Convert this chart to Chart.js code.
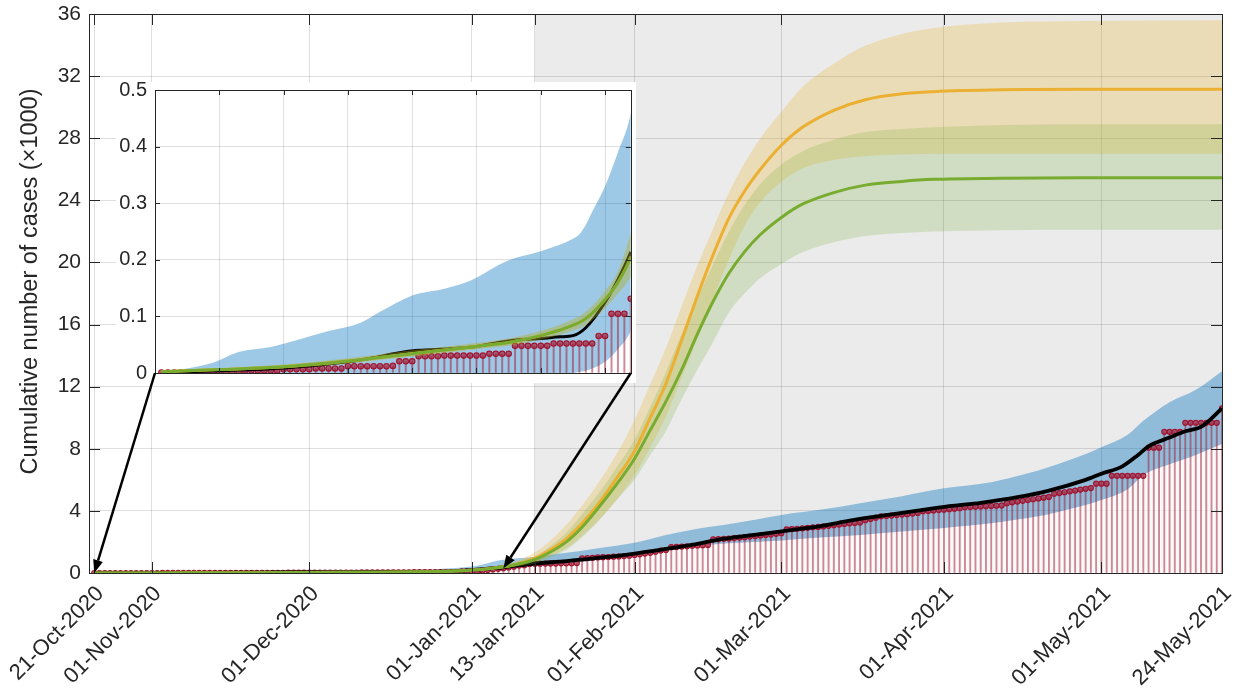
<!DOCTYPE html>
<html><head><meta charset="utf-8">
<script src="https://cdn.jsdelivr.net/npm/chart.js@4.4.1/dist/chart.umd.min.js"></script>
<style>
html,body{margin:0;padding:0;background:#fff;}
#wrap{position:relative;width:1239px;height:690px;overflow:hidden;background:#fff;}
#main{position:absolute;left:0;top:0;}
#inset{position:absolute;left:116px;top:82px;background:#fff;}
#overlay{position:absolute;left:0;top:0;pointer-events:none;}
</style></head><body>
<div id="wrap">
<canvas id="main" width="1239" height="690"></canvas>
<canvas id="inset" width="520" height="301"></canvas>
<canvas id="overlay" width="1239" height="690"></canvas>
</div>
<script>
// ---------- DATA (values in thousands of cases; x = day number, day 1 = 21-Oct-2020) ----------
const tickDays   = [1, 12, 42, 73, 85, 104, 132, 163, 193, 216];
const tickLabels = ['21-Oct-2020','01-Nov-2020','01-Dec-2020','01-Jan-2021','13-Jan-2021',
                    '01-Feb-2021','01-Mar-2021','01-Apr-2021','01-May-2021','24-May-2021'];
const yTitle = 'Cumulative number of cases (×1000)';
const shadeStartDay = 85;           // 13-Jan-2021
const insetMaxDay = 74;
const insetXTicks = [10, 20, 30, 40, 50, 60, 70];
const arrowTips = [[1, 0], [79, 0.3]];

// observed cumulative cases (stems), one per day from day 1
const casesK = [
  0.001,0.001,0.001,0.001,0.001,0.001,0.001,0.001,0.001,0.001,
  0.001,0.001,0.001,0.004,0.004,0.004,0.004,0.004,0.004,0.0065,
  0.0065,0.0065,0.0065,0.0065,0.008,0.008,0.008,0.008,0.008,0.012,
  0.012,0.012,0.012,0.012,0.012,0.012,0.0125,0.0207,0.0207,0.0207,
  0.0295,0.0295,0.0295,0.0295,0.0307,0.0307,0.0307,0.0307,0.0307,0.0307,
  0.0307,0.034,0.034,0.034,0.034,0.048,0.048,0.048,0.048,0.048,
  0.048,0.052,0.052,0.052,0.052,0.052,0.052,0.052,0.0655,0.0655,
  0.1045,0.1045,0.1045,0.131,
  0.16,0.19,0.23,0.27,0.31,0.36,0.41,0.48,0.50,0.58,
  0.60,0.60,0.61,0.61,0.61,0.62,0.62,0.63,0.64,0.95,
  0.96,0.98,1.00,1.02,1.03,1.05,1.07,1.09,1.11,1.16,
  1.20,1.25,1.30,1.37,1.45,1.48,1.66,1.68,1.70,1.72,
  1.75,1.77,1.79,1.81,2.17,2.18,2.20,2.22,2.25,2.28,
  2.31,2.35,2.38,2.42,2.45,2.48,2.52,2.56,2.81,2.83,
  2.85,2.88,2.91,2.94,2.97,3.00,3.04,3.08,3.12,3.16,
  3.20,3.22,3.25,3.40,3.48,3.56,3.65,3.67,3.70,3.73,
  3.76,3.79,3.83,3.87,3.98,4.00,4.03,4.06,4.08,4.11,
  4.14,4.17,4.24,4.25,4.27,4.29,4.30,4.32,4.33,4.35,
  4.50,4.55,4.60,4.65,4.70,4.75,4.80,4.85,4.90,5.10,
  5.15,5.20,5.26,5.31,5.37,5.42,5.47,5.75,5.75,5.75,
  6.26,6.26,6.26,6.26,6.26,6.26,6.26,8.07,8.07,8.07,
  9.09,9.09,9.09,9.09,9.67,9.67,9.67,9.67,9.67,9.67,
  9.67,10.6
];

// black fitted curve to the observations
const blackDays = [1,10,20,30,34,38,41,46,50,54,57,60,63,65,67,70,72,74,76,79,84,91,98,105,110,116,120,126,132,140,145,152,158,164,170,177,183,190,193,197,200,202,206,209,212,216];
const blackVals = [0.001,0.004,0.009,0.02,0.027,0.036,0.04,0.043,0.047,0.055,0.059,0.061,0.064,0.066,0.08,0.125,0.165,0.214,0.28,0.37,0.58,0.77,1.0,1.3,1.55,1.88,2.15,2.42,2.68,3.05,3.37,3.72,4.02,4.3,4.52,4.88,5.31,6.0,6.39,6.87,7.6,8.16,8.72,9.13,9.41,10.6];

// blue uncertainty band
const bandDays  = [1,5,9,13,18,22,27,32,35,40,45,49,55,60,65,66,67,68,70,72,74,76,78,85,91,97,104,110,116,123,132,140,147,155,163,172,177,181,188,193,198,201,206,211,216];
const blueUpper = [0.002,0.008,0.018,0.037,0.046,0.058,0.074,0.089,0.108,0.137,0.149,0.163,0.199,0.215,0.237,0.245,0.262,0.285,0.33,0.39,0.46,0.62,0.8,1.05,1.3,1.6,1.95,2.45,2.85,3.2,3.74,4.1,4.5,4.95,5.45,5.85,6.25,6.6,7.4,8.1,8.9,9.8,11.0,11.8,13.0];
const blueLower = [0,0,0,0,0,0,0,0,0,0,0,0,0,0,0,0.002,0.004,0.008,0.02,0.042,0.075,0.15,0.25,0.47,0.6,0.85,1.15,1.45,1.75,1.93,2.1,2.3,2.45,2.68,2.9,3.2,3.45,3.65,4.2,4.7,5.4,6.3,7.0,7.6,8.3];

// yellow and green model projections
const fitDays     = [1,10,20,30,40,50,55,60,64,67,70,72,74,78,81,85,88,91,94,97,101,104,107,110,113,116,119,122,125,128,132,136,142,148,155,161,174,190,216];
const yellowFit   = [0.002,0.006,0.011,0.021,0.034,0.047,0.054,0.066,0.08,0.096,0.13,0.16,0.205,0.35,0.53,0.95,1.5,2.2,3.2,4.4,6.3,7.85,10.0,12.2,15.0,17.85,20.5,22.85,24.6,26.0,27.55,28.7,29.8,30.48,30.86,31.0,31.12,31.15,31.15];
const yellowUpper = [0.004,0.009,0.015,0.026,0.04,0.053,0.061,0.074,0.09,0.108,0.145,0.18,0.25,0.45,0.7,1.33,2.1,3.1,4.35,5.75,7.9,9.85,12.15,14.5,17.2,19.8,22.2,24.5,26.4,28.0,29.7,31.3,32.8,33.95,34.72,35.1,35.45,35.55,35.6];
const yellowLower = [0.001,0.004,0.008,0.017,0.029,0.042,0.048,0.059,0.071,0.085,0.115,0.14,0.17,0.26,0.38,0.72,1.1,1.6,2.4,3.35,4.9,6.3,8.1,10.1,12.6,15.1,17.7,20.2,22.4,23.9,25.2,26.05,26.6,26.85,26.95,27.0,27.0,27.0,27.0];
const greenFit    = [0.002,0.006,0.011,0.021,0.034,0.047,0.054,0.066,0.08,0.096,0.13,0.16,0.205,0.35,0.52,0.87,1.35,2.0,2.95,4.15,5.9,7.36,9.2,11.05,13.1,15.4,17.5,19.3,20.7,21.8,22.9,23.75,24.5,24.98,25.22,25.35,25.42,25.45,25.45];
const greenUpper  = [0.004,0.009,0.015,0.026,0.04,0.053,0.061,0.074,0.09,0.108,0.145,0.18,0.246,0.42,0.63,1.08,1.75,2.6,3.8,5.05,7.0,8.6,10.7,12.95,15.4,17.7,19.9,22.0,23.7,25.05,26.3,27.15,27.9,28.4,28.6,28.7,28.85,28.9,28.9];
const greenLower  = [0.001,0.004,0.008,0.017,0.029,0.042,0.048,0.059,0.071,0.085,0.115,0.14,0.17,0.28,0.42,0.6,1.0,1.5,2.3,3.3,4.85,6.0,7.6,9.15,11.2,13.1,14.9,16.8,18.0,19.0,19.9,20.65,21.3,21.7,21.9,22.0,22.08,22.1,22.1];

// ---------- STYLE ----------
const FONT = '"Liberation Sans", Arial, Helvetica, sans-serif';
const TXT = '#262626';
const GRID = 'rgba(38,38,38,0.15)';
const BLUE_FILL = 'rgba(0,114,189,0.38)';
const YELLOW_FILL = 'rgba(237,177,32,0.25)';
const GREEN_FILL = 'rgba(119,172,48,0.22)';
const RED = '#A2142F';
Chart.defaults.font.family = FONT;
Chart.defaults.color = TXT;

const toXY = (xs, ys) => xs.map((x, i) => ({x: x, y: ys[i]}));
const obsPoints = casesK.map((v, i) => ({x: i + 1, y: v}));

function bandLine(data, fill, bg, order) {
  return {type:'line', data: data, borderWidth:0, pointRadius:0, fill: fill,
          backgroundColor: bg, borderColor:'rgba(0,0,0,0)', cubicInterpolationMode:'monotone', order: order};
}
function makeDatasets(o) {
  return [
    bandLine(toXY(bandDays, blueUpper), 1, BLUE_FILL, 100),                       // 0
    bandLine(toXY(bandDays, blueLower), 'origin', 'rgba(255,255,255,0.72)', 101), // 1
    {type:'bar', data: obsPoints, barThickness: o.stemW, backgroundColor:'rgba(162,20,47,0.5)',
     borderWidth:0, grouped:false, order: 90},                                     // 2
    {type:'line', data: obsPoints, showLine:false, pointRadius: o.dotR,
     pointBackgroundColor:'rgba(162,20,47,0.6)', pointBorderColor: RED, pointBorderWidth:1.2, order: 80}, // 3
    {type:'line', data: toXY(blackDays, blackVals), borderColor:'#000', borderWidth: o.blackW,
     pointRadius:0, fill:false, cubicInterpolationMode:'monotone', order: 70},     // 4
    bandLine(toXY(fitDays, yellowUpper), 6, YELLOW_FILL, 60),                      // 5
    bandLine(toXY(fitDays, yellowLower), false, 'rgba(0,0,0,0)', 61),              // 6
    bandLine(toXY(fitDays, greenUpper), 8, GREEN_FILL, 50),                        // 7
    bandLine(toXY(fitDays, greenLower), false, 'rgba(0,0,0,0)', 51),               // 8
    {type:'line', data: toXY(fitDays, yellowFit), borderColor:'#EBB031', borderWidth:3,
     pointRadius:0, fill:false, cubicInterpolationMode:'monotone', order: 40},     // 9
    {type:'line', data: toXY(fitDays, greenFit), borderColor:'#77AC30', borderWidth:3,
     pointRadius:0, fill:false, cubicInterpolationMode:'monotone', order: 30}      // 10
  ];
}

function boxPlugin(tickLen) {
  return {
    id: 'boxTicks',
    afterDatasetsDraw(chart) {
      const ctx = chart.ctx, a = chart.chartArea, sx = chart.scales.x, sy = chart.scales.y;
      ctx.save();
      ctx.strokeStyle = TXT; ctx.lineWidth = 1;
      ctx.beginPath();
      sx.ticks.forEach(t => {
        const px = Math.round(sx.getPixelForValue(t.value)) + 0.5;
        ctx.moveTo(px, a.bottom); ctx.lineTo(px, a.bottom - tickLen);
        ctx.moveTo(px, a.top); ctx.lineTo(px, a.top + tickLen);
      });
      sy.ticks.forEach(t => {
        const py = Math.round(sy.getPixelForValue(t.value)) + 0.5;
        ctx.moveTo(a.left, py); ctx.lineTo(a.left + tickLen, py);
        ctx.moveTo(a.right, py); ctx.lineTo(a.right - tickLen, py);
      });
      ctx.stroke();
      ctx.strokeRect(Math.round(a.left) + 0.5, Math.round(a.top) + 0.5,
                     Math.round(a.right - a.left), Math.round(a.bottom - a.top));
      ctx.restore();
    }
  };
}
const shadePlugin = {
  id: 'shade',
  beforeDraw(chart) {
    const ctx = chart.ctx, a = chart.chartArea, sx = chart.scales.x;
    const x0 = sx.getPixelForValue(shadeStartDay);
    ctx.save(); ctx.fillStyle = '#EBEBEB';
    ctx.fillRect(x0, a.top, a.right - x0, a.bottom - a.top);
    ctx.restore();
  }
};
// y-axis title, centred slightly above the axis middle as in the original figure
const yTitlePlugin = {
  id: 'yTitle',
  afterDraw(chart) {
    const ctx = chart.ctx, a = chart.chartArea;
    ctx.save();
    ctx.translate(31, (a.top + a.bottom) / 2 - 12);
    ctx.rotate(-Math.PI / 2);
    ctx.font = '23.5px ' + FONT;
    ctx.fillStyle = TXT; ctx.textAlign = 'center'; ctx.textBaseline = 'middle';
    ctx.fillText(yTitle, 0, 0);
    ctx.restore();
  }
};

const common = {
  responsive:false, animation:false, events:[],
  plugins:{legend:{display:false}, tooltip:{enabled:false}}
};

const mainChart = new Chart(document.getElementById('main'), {
  type:'line',
  data:{datasets: makeDatasets({stemW:1.2, dotR:2.5, blackW:3.8})},
  options: Object.assign({}, common, {
    layout:{padding:{top:14, right:17, left:0, bottom:0}},
    scales:{
      x:{type:'linear', min:0, max:216, offset:false,
         grid:{color:GRID, drawTicks:false, offset:false}, border:{display:false},
         afterBuildTicks: s => { s.ticks = tickDays.map(v => ({value:v})); },
         ticks:{autoSkip:false, minRotation:45, maxRotation:45, padding:8, labelOffset:6,
                font:{size:22}, color:TXT,
                callback: v => tickLabels[tickDays.indexOf(v)]},
         afterFit: s => { s.height = 117; s.paddingLeft = 0; s.paddingRight = 0; }},
      y:{type:'linear', min:0, max:36,
         grid:{color:GRID, drawTicks:false}, border:{display:false},
         ticks:{stepSize:4, padding:8, font:{size:21}, color:TXT},
         afterFit: s => { s.width = 89; s.paddingTop = 0; s.paddingBottom = 0; }}
    }
  }),
  plugins:[shadePlugin, boxPlugin(11), yTitlePlugin]
});

const insetChart = new Chart(document.getElementById('inset'), {
  type:'line',
  data:{datasets: makeDatasets({stemW:1.3, dotR:2.7, blackW:3})},
  options: Object.assign({}, common, {
    layout:{padding:{top:8, right:4, left:0, bottom:0}},
    scales:{
      x:{type:'linear', min:0, max:insetMaxDay, offset:false,
         grid:{color:GRID, drawTicks:false, offset:false}, border:{display:false},
         afterBuildTicks: s => { s.ticks = insetXTicks.map(v => ({value:v})); },
         ticks:{display:false},
         afterFit: s => { s.height = 10; s.paddingLeft = 0; s.paddingRight = 0; }},
      y:{type:'linear', min:0, max:0.5,
         grid:{color:GRID, drawTicks:false}, border:{display:false},
         ticks:{stepSize:0.1, padding:8, font:{size:20}, color:TXT,
                callback: v => (Math.abs(v) < 1e-9 ? '0' : v.toFixed(1))},
         afterFit: s => { s.width = 39; s.paddingTop = 0; s.paddingBottom = 0; }}
    }
  }),
  plugins:[boxPlugin(5)]
});

// ---------- arrows linking the inset to the main axes ----------
(function drawArrows() {
  const ov = document.getElementById('overlay');
  const ctx = ov.getContext('2d');
  const insetEl = document.getElementById('inset');
  const offX = insetEl.offsetLeft, offY = insetEl.offsetTop;
  const ia = insetChart.chartArea;
  const starts = [[offX + ia.left, offY + ia.bottom], [offX + ia.right, offY + ia.bottom]];
  const sx = mainChart.scales.x, sy = mainChart.scales.y;
  ctx.strokeStyle = '#000'; ctx.fillStyle = '#000'; ctx.lineWidth = 2.5;
  arrowTips.forEach((tip, i) => {
    const x0 = starts[i][0], y0 = starts[i][1];
    const x1 = sx.getPixelForValue(tip[0]), y1 = sy.getPixelForValue(tip[1]);
    const ang = Math.atan2(y1 - y0, x1 - x0), head = 13, hw = 5;
    const bx = x1 - head * Math.cos(ang), by = y1 - head * Math.sin(ang);
    ctx.beginPath(); ctx.moveTo(x0, y0); ctx.lineTo(bx, by); ctx.stroke();
    ctx.beginPath(); ctx.moveTo(x1, y1);
    ctx.lineTo(bx + hw * Math.sin(ang), by - hw * Math.cos(ang));
    ctx.lineTo(bx - hw * Math.sin(ang), by + hw * Math.cos(ang));
    ctx.closePath(); ctx.fill();
  });
})();
</script>
</body></html>
